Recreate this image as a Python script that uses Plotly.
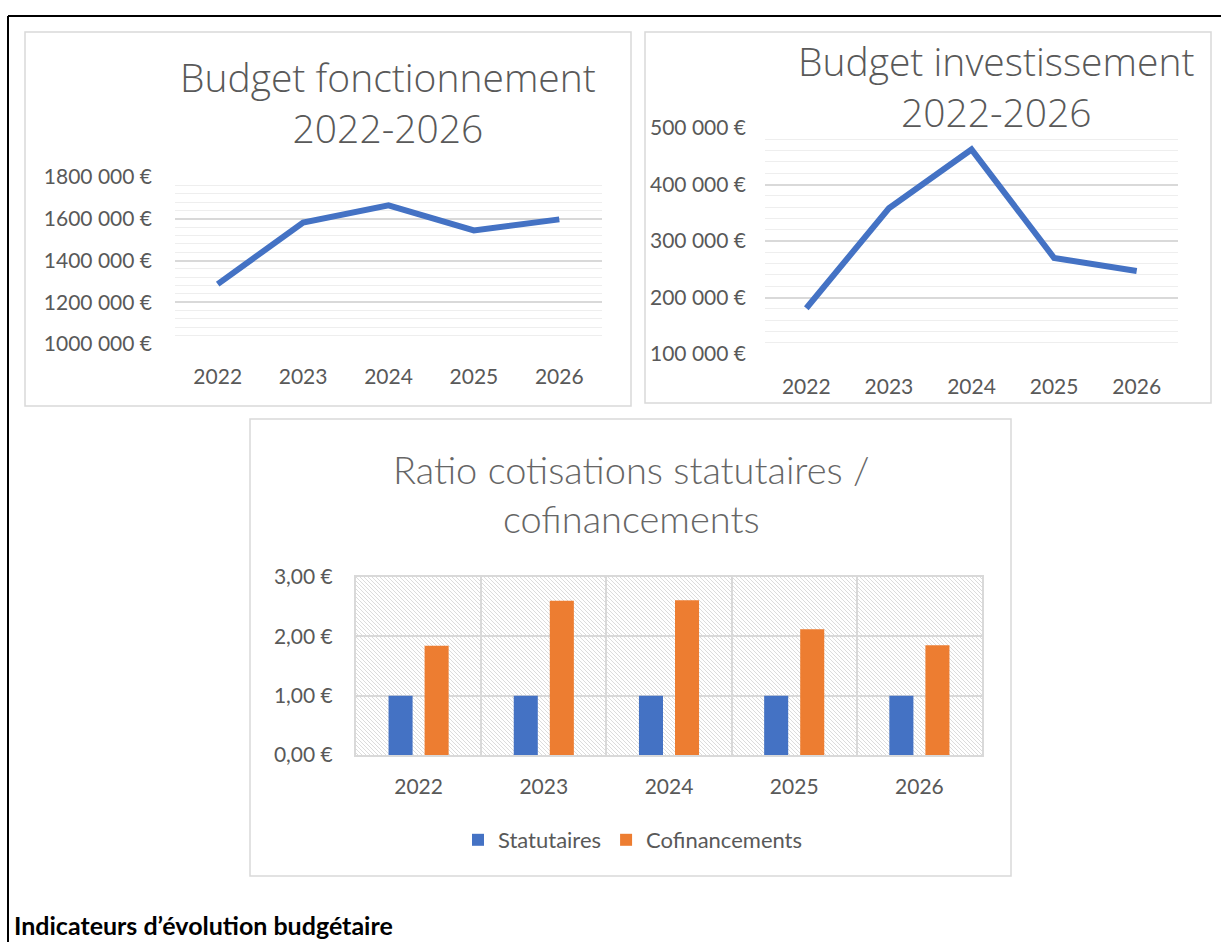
import base64
import plotly.graph_objects as go

# ---------------- data ----------------
years = ["2022", "2023", "2024", "2025", "2026"]

fonctionnement = [1287000, 1582000, 1664000, 1544000, 1597000]
investissement = [181000, 358000, 462000, 270000, 247000]

statutaires = [1.00, 1.00, 1.00, 1.00, 1.00]
cofinancements = [1.84, 2.60, 2.61, 2.12, 1.85]

fonct_tickvals = [1000000, 1200000, 1400000, 1600000, 1800000]
fonct_ticktext = ["1000 000 €", "1200 000 €", "1400 000 €", "1600 000 €", "1800 000 €"]
inv_tickvals = [100000, 200000, 300000, 400000, 500000]
inv_ticktext = ["100 000 €", "200 000 €", "300 000 €", "400 000 €", "500 000 €"]
ratio_tickvals = [0, 1, 2, 3]
ratio_ticktext = ["0,00 €", "1,00 €", "2,00 €", "3,00 €"]

title_fonct = "Budget fonctionnement<br>2022-2026"
title_inv = "Budget investissement<br>2022-2026"
title_ratio = "Ratio cotisations statutaires /<br>cofinancements"
caption = "Indicateurs d’évolution budgétaire"

# ---------------- geometry helpers ----------------
W, H = 1221, 942


def px(x):
    return x / W


def py(y):
    return 1 - y / H


BLUE = "#4472C4"
ORANGE = "#ED7D31"
GRID = "#d9d9d9"
MINOR = "#eeeeee"
TXT = "#595959"
TICKFONT = dict(family="Lato", size=21, color=TXT)
TITLEFONT = dict(family="Open Sans", size=39, color=TXT, weight=300)

fig = go.Figure()

fig.add_trace(go.Scatter(x=years, y=fonctionnement, mode="lines",
                         line=dict(color=BLUE, width=6),
                         xaxis="x", yaxis="y", showlegend=False))
fig.add_trace(go.Scatter(x=years, y=investissement, mode="lines",
                         line=dict(color=BLUE, width=6),
                         xaxis="x2", yaxis="y2", showlegend=False))
fig.add_trace(go.Bar(x=years, y=statutaires, name="Statutaires",
                     marker=dict(color=BLUE, line=dict(width=0)),
                     xaxis="x3", yaxis="y3"))
fig.add_trace(go.Bar(x=years, y=cofinancements, name="Cofinancements",
                     marker=dict(color=ORANGE, line=dict(width=0)),
                     xaxis="x3", yaxis="y3"))

xcommon = dict(type="category", range=[-0.5, 4.5], showgrid=False, zeroline=False,
               showline=False, tickfont=TICKFONT, ticks="", ticklabelstandoff=18,
               automargin=False, fixedrange=True)

fig.update_layout(
    template="none",
    width=W, height=H,
    margin=dict(l=0, r=0, t=0, b=0, pad=0, autoexpand=False),
    paper_bgcolor="white",
    plot_bgcolor="rgba(0,0,0,0)",
    barmode="group", bargap=0.424, bargroupgap=0.333,
    xaxis=dict(domain=[px(175), px(602)], anchor="y", **xcommon),
    yaxis=dict(domain=[py(344), py(177)], anchor="x", range=[1000000, 1800000],
               tickvals=fonct_tickvals, ticktext=fonct_ticktext, tickfont=TICKFONT,
               showgrid=True, gridcolor=GRID, gridwidth=1.6, zeroline=False,
               showline=False, ticks="", ticklabelstandoff=22, automargin=False,
               minor=dict(dtick=40000, tick0=1000000, showgrid=True,
                          gridcolor=MINOR, gridwidth=1.4)),
    xaxis2=dict(domain=[px(765), px(1178)], anchor="y2", **xcommon),
    yaxis2=dict(domain=[py(354), py(128)], anchor="x2", range=[100000, 500000],
                tickvals=inv_tickvals, ticktext=inv_ticktext, tickfont=TICKFONT,
                showgrid=True, gridcolor=GRID, gridwidth=1.6, zeroline=False,
                showline=False, ticks="", ticklabelstandoff=18, automargin=False,
                minor=dict(dtick=20000, tick0=100000, showgrid=True,
                           gridcolor=MINOR, gridwidth=1.4)),
    xaxis3=dict(domain=[px(356), px(982)], anchor="y3", type="category",
                range=[-0.5, 4.5], tickson="boundaries", showgrid=True,
                gridcolor=GRID, gridwidth=2, showline=True, linecolor=GRID,
                linewidth=2, mirror=True, zeroline=False, ticks="",
                tickfont=TICKFONT, ticklabelstandoff=12, automargin=False,
                fixedrange=True),
    yaxis3=dict(domain=[py(755), py(577)], anchor="x3", range=[0, 3],
                tickvals=ratio_tickvals, ticktext=ratio_ticktext, tickfont=TICKFONT,
                showgrid=True, gridcolor=GRID, gridwidth=2, zeroline=False,
                showline=True, linecolor=GRID, linewidth=2, mirror=True,
                ticks="", ticklabelstandoff=17, automargin=False),
    showlegend=True,
    legend=dict(orientation="h", x=px(633), xanchor="center", y=py(840),
                yanchor="middle", font=dict(family="Lato", size=22, color=TXT),
                itemsizing="constant", bgcolor="rgba(0,0,0,0)", borderwidth=0),
)

# hatched plot-area background of the ratio chart
pw, ph = 626, 178
svg = (f'<svg xmlns="http://www.w3.org/2000/svg" width="{pw}" height="{ph}" '
       f'viewBox="0 0 {pw} {ph}" preserveAspectRatio="none">'
       '<defs><pattern id="h" width="4" height="4" patternUnits="userSpaceOnUse">'
       '<path d="M-1,-1 L5,5 M-1,3 L1,5 M3,-1 L5,1" stroke="#dcdcdc" stroke-width="1"/>'
       '</pattern></defs><rect width="100%" height="100%" fill="url(#h)"/></svg>')
src = "data:image/svg+xml;base64," + base64.b64encode(svg.encode()).decode()
fig.add_layout_image(dict(source=src, xref="paper", yref="paper",
                          x=px(356), y=py(577), sizex=px(pw), sizey=ph / H,
                          xanchor="left", yanchor="top", sizing="stretch",
                          layer="below"))

# panel frames and outer frame
frames = [(25, 32, 631, 406), (645, 32, 1211, 403), (250, 419, 1011, 876)]
for x0, y0, x1, y1 in frames:
    fig.add_shape(type="rect", xref="paper", yref="paper",
                  x0=px(x0), x1=px(x1), y0=py(y0), y1=py(y1),
                  line=dict(color=GRID, width=1.5), fillcolor="rgba(0,0,0,0)",
                  layer="below")
fig.add_shape(type="line", xref="paper", yref="paper", x0=px(8), x1=1.0,
              y0=py(16), y1=py(16), line=dict(color="black", width=2))
fig.add_shape(type="line", xref="paper", yref="paper", x0=px(8), x1=px(8),
              y0=py(16), y1=0, line=dict(color="black", width=2))


def title(text, x, y, font):
    fig.add_annotation(text=text, xref="paper", yref="paper", x=px(x), y=py(y),
                       xanchor="center", yanchor="middle", showarrow=False,
                       font=font, align="center")


title(title_fonct, 388, 102, TITLEFONT)
title(title_inv, 996, 86, TITLEFONT)
title(title_ratio, 631, 493, dict(family="Lato", size=38, color="#666666", weight=300))

fig.add_annotation(text="<b>" + caption + "</b>", xref="paper", yref="paper",
                   x=px(12), y=0, xanchor="left", yanchor="bottom",
                   showarrow=False, font=dict(family="Lato", size=25, color="black"))

fig.write_html("out.html")
